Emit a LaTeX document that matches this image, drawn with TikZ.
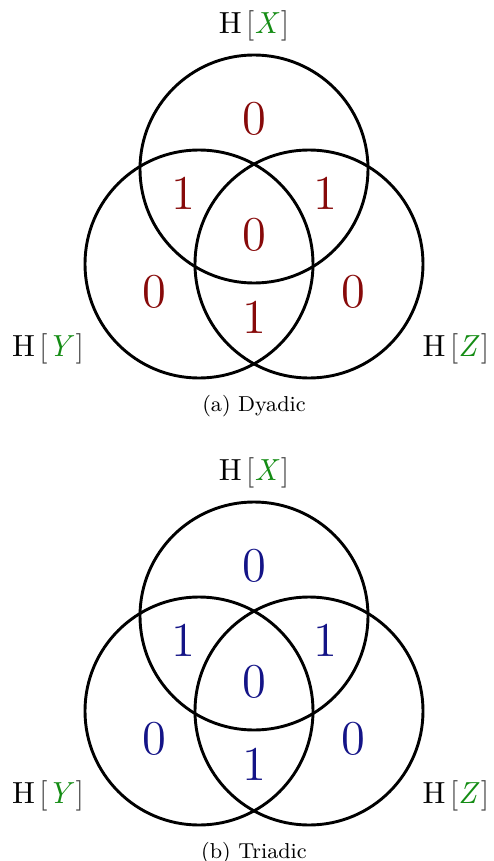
\documentclass[tikz,border=0pt]{standalone}
\usepackage{xcolor}
\definecolor{numred}{RGB}{135,10,10}
\definecolor{numblue}{RGB}{20,20,135}
\definecolor{vargreen}{RGB}{20,140,20}
\definecolor{brgray}{RGB}{70,70,70}
\newcommand{\HLabel}[1]{H\kern0.14em\textcolor{brgray}{[}\textcolor{vargreen}{\textit{#1}\kern0.04em}\textcolor{brgray}{]}}
\tikzset{
  venncirc/.style={draw=black, line width=2.9pt, circle, minimum size=228pt, inner sep=0pt},
  vlabel/.style={font=\fontsize{10}{12}\selectfont, scale=3.05, inner sep=0pt},
  vnum/.style={font=\fontsize{12}{14}\selectfont, scale=4.05, inner sep=0pt},
  capt/.style={font=\fontsize{9}{11}\selectfont, scale=2.4, inner sep=0pt}
}
\begin{document}
\begin{tikzpicture}[x=1pt,y=-1pt]
\useasboundingbox (0,0) rectangle (494,861);
\foreach \off/\col/\cap/\id in {0/numred/{(a) Dyadic}/a, 447/numblue/{(b) Triadic}/b}{
  \begin{scope}[yshift=-\off pt]
    \node[venncirc] (top\id) at (254,169) {};
    \node[venncirc] (left\id) at (199,264) {};
    \node[venncirc] (right\id) at (309,264) {};
    \node[vlabel] (lx\id) at (254,26) {\HLabel{X}};
    \node[vlabel] (ly\id) at (48,349) {\HLabel{Y}};
    \node[vlabel] (lz\id) at (456,349) {\HLabel{Z}};
    \node[vnum,text=\col] (n1\id) at (254,119) {0};
    \node[vnum,text=\col] (n2\id) at (183,193) {1};
    \node[vnum,text=\col] (n3\id) at (325,193) {1};
    \node[vnum,text=\col] (n4\id) at (254,235) {0};
    \node[vnum,text=\col] (n5\id) at (154,292) {0};
    \node[vnum,text=\col] (n6\id) at (353,292) {0};
    \node[vnum,text=\col] (n7\id) at (254,317) {1};
    \node[capt] (cap\id) at (254,406) {\cap};
  \end{scope}
}
\end{tikzpicture}
\end{document}
